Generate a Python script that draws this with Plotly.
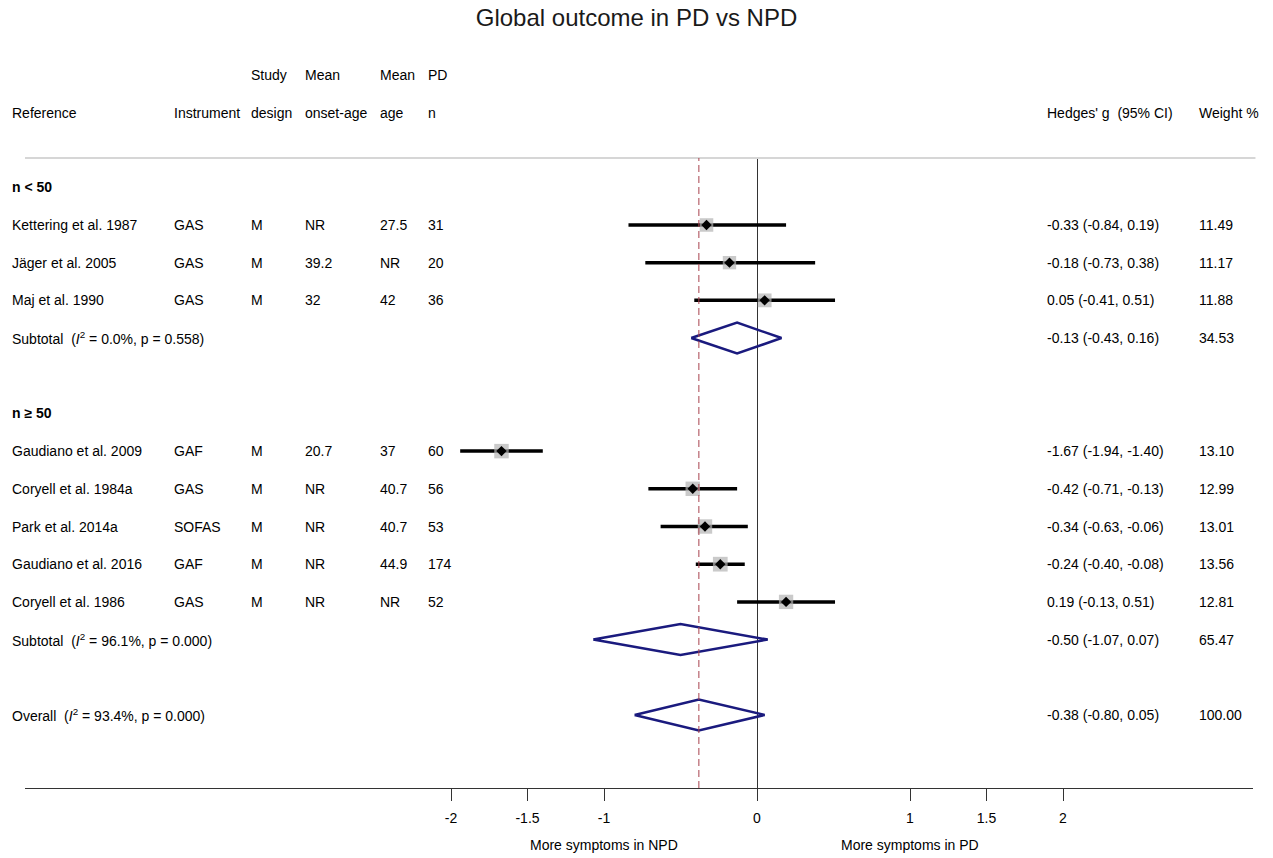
import plotly.graph_objects as go

# ---- study-level data -------------------------------------------------------
studies = ["Kettering et al. 1987", "Jäger et al. 2005", "Maj et al. 1990",
           "Gaudiano et al. 2009", "Coryell et al. 1984a", "Park et al. 2014a",
           "Gaudiano et al. 2016", "Coryell et al. 1986"]
instrument = ["GAS", "GAS", "GAS", "GAF", "GAS", "SOFAS", "GAF", "GAS"]
design = ["M", "M", "M", "M", "M", "M", "M", "M"]
onset_age = ["NR", "39.2", "32", "20.7", "NR", "NR", "NR", "NR"]
mean_age = ["27.5", "NR", "42", "37", "40.7", "40.7", "44.9", "NR"]
pd_n = ["31", "20", "36", "60", "56", "53", "174", "52"]
g = [-0.33, -0.18, 0.05, -1.67, -0.42, -0.34, -0.24, 0.19]
ci_lo = [-0.84, -0.73, -0.41, -1.94, -0.71, -0.63, -0.40, -0.13]
ci_hi = [0.19, 0.38, 0.51, -1.40, -0.13, -0.06, -0.08, 0.51]
weight = [11.49, 11.17, 11.88, 13.10, 12.99, 13.01, 13.56, 12.81]
study_row = [2, 3, 4, 8, 9, 10, 11, 12]

# ---- pooled estimates -------------------------------------------------------
pool_label = ["Subtotal", "Subtotal", "Overall"]
pool_i2 = ["0.0", "96.1", "93.4"]
pool_p = ["0.558", "0.000", "0.000"]
pool_g = [-0.13, -0.50, -0.38]
pool_lo = [-0.43, -1.07, -0.80]
pool_hi = [0.16, 0.07, 0.05]
pool_w = [34.53, 65.47, 100.00]
pool_row = [5, 13, 15]

group_label = ["n < 50", "n \u2265 50"]
group_row = [1, 7]

overall_g = -0.38
tick_vals = [-2, -1.5, -1, 0, 1, 1.5, 2]
tick_text = ["-2", "-1.5", "-1", "0", "1", "1.5", "2"]

# ---- layout constants -------------------------------------------------------
W, H = 1273, 858
ML, MR, MT, MB = 25, 20, 158, 70
PLOT_W = W - ML - MR
PLOT_H = H - MT - MB
FONT = "Liberation Sans, Arial, sans-serif"
FS = 14
NAVY = "#1a1a7e"


def px_x(p):
    """horizontal pixel -> paper fraction"""
    return (p - ML) / PLOT_W


def px_y(p):
    """vertical pixel -> paper fraction"""
    return (H - MB - p) / PLOT_H


col_x = {"ref": 10, "instr": 172, "design": 249, "onset": 303, "age": 378,
         "n": 426, "es": 1045, "w": 1197}

fig = go.Figure()

# confidence-interval bars
cx, cy = [], []
for lo, hi, r in zip(ci_lo, ci_hi, study_row):
    cx += [lo, hi, None]
    cy += [r, r, None]
fig.add_trace(go.Scatter(x=cx, y=cy, mode="lines",
                         line=dict(color="black", width=3.5),
                         hoverinfo="skip", showlegend=False))

# weight boxes
fig.add_trace(go.Scatter(x=g, y=study_row, mode="markers",
                         marker=dict(symbol="square", color="#b3b3b3",
                                     size=[4.0 * w ** 0.5 for w in weight],
                                     line=dict(width=0)),
                         hoverinfo="skip", showlegend=False))
# point estimates
fig.add_trace(go.Scatter(x=g, y=study_row, mode="markers",
                         marker=dict(symbol="diamond", color="black", size=8),
                         hoverinfo="skip", showlegend=False))

# pooled diamonds
dx, dy = [], []
for est, lo, hi, r in zip(pool_g, pool_lo, pool_hi, pool_row):
    dx += [lo, est, hi, est, lo, None]
    dy += [r, r - 0.41, r, r + 0.41, r, None]
fig.add_trace(go.Scatter(x=dx, y=dy, mode="lines",
                         line=dict(color=NAVY, width=2.5),
                         hoverinfo="skip", showlegend=False))

ann = []


def text(x_px, y, s, yref="y", bold=False, anchor="left"):
    ann.append(dict(x=px_x(x_px), xref="paper", y=y, yref=yref,
                    text=f"<b>{s}</b>" if bold else s, showarrow=False,
                    xanchor=anchor, yanchor="middle",
                    font=dict(family=FONT, size=FS, color="black")))


# column headings
h1, h2 = px_y(75), px_y(113)
text(col_x["design"], h1, "Study", "paper")
text(col_x["onset"], h1, "Mean", "paper")
text(col_x["age"], h1, "Mean", "paper")
text(col_x["n"], h1, "PD", "paper")
text(col_x["ref"], h2, "Reference", "paper")
text(col_x["instr"], h2, "Instrument", "paper")
text(col_x["design"], h2, "design", "paper")
text(col_x["onset"], h2, "onset-age", "paper")
text(col_x["age"], h2, "age", "paper")
text(col_x["n"], h2, "n", "paper")
text(col_x["es"], h2, "Hedges' g \u00a0(95% CI)", "paper")
text(col_x["w"], h2, "Weight %", "paper")

for lab, r in zip(group_label, group_row):
    text(col_x["ref"], r, lab, bold=True)

for i, r in enumerate(study_row):
    text(col_x["ref"], r, studies[i])
    text(col_x["instr"], r, instrument[i])
    text(col_x["design"], r, design[i])
    text(col_x["onset"], r, onset_age[i])
    text(col_x["age"], r, mean_age[i])
    text(col_x["n"], r, pd_n[i])
    text(col_x["es"], r, f"{g[i]:.2f} ({ci_lo[i]:.2f}, {ci_hi[i]:.2f})")
    text(col_x["w"], r, f"{weight[i]:.2f}")

for i, r in enumerate(pool_row):
    text(col_x["ref"], r,
         f"{pool_label[i]} \u00a0(<i>I</i><sup>2</sup> = {pool_i2[i]}%, p = {pool_p[i]})")
    text(col_x["es"], r, f"{pool_g[i]:.2f} ({pool_lo[i]:.2f}, {pool_hi[i]:.2f})")
    text(col_x["w"], r, f"{pool_w[i]:.2f}")

# direction labels under the axis
for xv, s in [(-1, "More symptoms in NPD"), (1, "More symptoms in PD")]:
    ann.append(dict(x=xv, xref="x", y=px_y(845), yref="paper", text=s,
                    showarrow=False, xanchor="center", yanchor="middle",
                    font=dict(family=FONT, size=FS, color="black")))

shapes = [
    # separator under the headings
    dict(type="line", xref="paper", yref="paper", x0=0, x1=1.002, y0=1, y1=1,
         line=dict(color="#d6d6d6", width=2)),
    # overall estimate reference line
    dict(type="line", xref="x", yref="paper", x0=overall_g, x1=overall_g,
         y0=0, y1=1, line=dict(color="#a8424e", width=1, dash="7px,4px")),
]

x_lo = (ML - 757) / 153
x_hi = (W - MR - 757) / 153
row0, row_h = 149.6, 37.69
y_top = (MT - row0) / row_h
y_bot = (H - MB - row0) / row_h

fig.update_layout(
    width=W, height=H,
    margin=dict(l=ML, r=MR, t=MT, b=MB),
    paper_bgcolor="white", plot_bgcolor="white",
    title=dict(text="Global outcome in PD vs NPD", x=0.5, xref="container",
               xanchor="center", y=1 - 18 / H, yref="container",
               yanchor="middle",
               font=dict(family=FONT, size=24, color="#1a1a1a")),
    xaxis=dict(range=[x_lo, x_hi], showgrid=False, zeroline=True,
               zerolinecolor="#333333", zerolinewidth=1,
               showline=True, linecolor="#333333", linewidth=1,
               ticks="outside", ticklen=12, tickcolor="#333333", tickwidth=1,
               ticklabelstandoff=5,
               tickvals=tick_vals, ticktext=tick_text,
               tickfont=dict(family=FONT, size=FS, color="black"),
               fixedrange=True),
    yaxis=dict(range=[y_bot, y_top], visible=False, fixedrange=True),
    annotations=ann, shapes=shapes, showlegend=False,
)

fig.write_html("out.html")
